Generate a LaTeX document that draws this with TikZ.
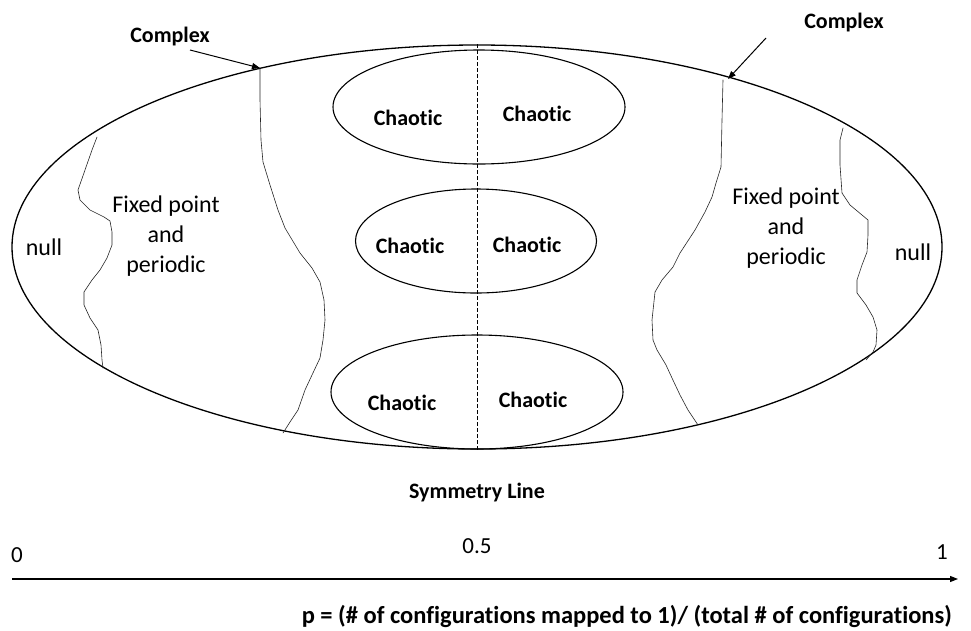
\documentclass[tikz,border=0pt]{standalone}
\usepackage{fontspec}
\setmainfont{Carlito}[Ligatures=NoCommon]
\usetikzlibrary{shapes.geometric,arrows.meta}
\tikzset{
  region/.style={draw, ellipse, inner sep=0pt, line width=1.3pt},
  chaos/.style={draw, ellipse, inner sep=0pt, line width=1.1pt},
  boldlbl/.style={inner sep=0pt, anchor=base, font=\fontsize{22}{26}\selectfont\bfseries},
  plainlbl/.style={inner sep=0pt, anchor=base, font=\fontsize{24}{29}\selectfont},
  multilbl/.style={inner sep=0pt, align=center, font=\fontsize{24}{30}\selectfont},
  boundary/.style={line width=0.6pt, black!85, line join=round, line cap=round},
  pointer/.style={line width=1pt, -{Triangle[length=8pt,width=6pt]}},
  symline/.style={line width=0.7pt, dash pattern=on 4pt off 2pt}
}
\begin{document}
\begin{tikzpicture}[x=1pt,y=-1pt]
\useasboundingbox (0,0) rectangle (971,630);
% main region
\node[region, minimum width=930pt, minimum height=404pt] (big) at (477,247) {};
% symmetry line
\draw[symline] (big.north) -- (big.south);
% chaotic ellipses
\node[chaos, minimum width=292pt, minimum height=114pt] (e1) at (479,107) {};
\node[chaos, minimum width=241pt, minimum height=104pt] (e2) at (476,241) {};
\node[chaos, minimum width=292pt, minimum height=114pt] (e3) at (477,392) {};
\node[boldlbl] (c1l) at (408,125) {Chaotic};
\node[boldlbl] (c1r) at (537,121) {Chaotic};
\node[boldlbl] (c2l) at (410,253) {Chaotic};
\node[boldlbl] (c2r) at (527,252) {Chaotic};
\node[boldlbl] (c3l) at (402,410) {Chaotic};
\node[boldlbl] (c3r) at (533,407) {Chaotic};
% boundaries
\draw[boundary] (97,137) -- (92,150) -- (85,170) -- (78,190) -- (80,200) -- (90,210) -- (104,217) -- (110,221) -- (112,232) -- (112,245) -- (107,258) -- (100,270) -- (92,280) -- (84,292) -- (84,305) -- (90,318) -- (98,330) -- (101,345) -- (102,360) -- (103,368);
\draw[boundary] (260,68) -- (260,100) -- (261,140) -- (263,162) -- (270,185) -- (278,210) -- (285,228) -- (300,253) -- (312,268) -- (320,282) -- (324,300) -- (325,320) -- (323,340) -- (320,358) -- (312,375) -- (305,390) -- (298,410) -- (290,422) -- (283,433);
\draw[boundary] (723,80) -- (722,120) -- (721,167) -- (716,183) -- (712,197) -- (705,212) -- (695,230) -- (680,253) -- (673,267) -- (662,280) -- (655,292) -- (652,320) -- (653,340) -- (657,350) -- (666,365) -- (672,378) -- (680,395) -- (688,410) -- (698,425);
\draw[boundary] (843,128) -- (840,140) -- (840,165) -- (842,193) -- (850,205) -- (862,215) -- (868,220) -- (868,235) -- (867,252) -- (862,265) -- (857,280) -- (857,293) -- (866,305) -- (873,317) -- (877,330) -- (876,345) -- (873,352) -- (866,360);
% region labels
\node[plainlbl] (nullL) at (44,255) {null};
\node[plainlbl] (nullR) at (913,260) {null};
\node[multilbl] (fpL) at (166,236) {Fixed point\\and\\periodic};
\node[multilbl] (fpR) at (786,228) {Fixed point\\and\\periodic};
% complex pointers
\node[boldlbl] (cxL) at (170,42) {Complex};
\node[boldlbl] (cxR) at (844,28) {Complex};
\coordinate (cxLs) at (190,50);
\coordinate (cxLe) at (260,68);
\coordinate (cxRs) at (766,38);
\coordinate (cxRe) at (728,79);
\draw[pointer] (cxLs) -- (cxLe);
\draw[pointer] (cxRs) -- (cxRe);
% symmetry label
\node[boldlbl] (sym) at (477,498) {Symmetry Line};
% axis
\coordinate (ax0) at (12,579);
\coordinate (ax1) at (958,579);
\draw[line width=1.1pt, -{Triangle[length=8pt,width=6pt]}] (ax0) -- (ax1);
\node[plainlbl, font=\fontsize{23}{28}\selectfont] (t0) at (17,562) {0};
\node[plainlbl, font=\fontsize{23}{28}\selectfont] (t5) at (477,553) {0.5};
\node[plainlbl, font=\fontsize{23}{28}\selectfont] (t1) at (942,559) {1};
\node[boldlbl, anchor=base east, font=\fontsize{24.5}{29}\selectfont\bfseries] (plabel) at (952,623) {p = (\# of configurations mapped to 1)/ (total \# of configurations)};
\end{tikzpicture}
\end{document}
